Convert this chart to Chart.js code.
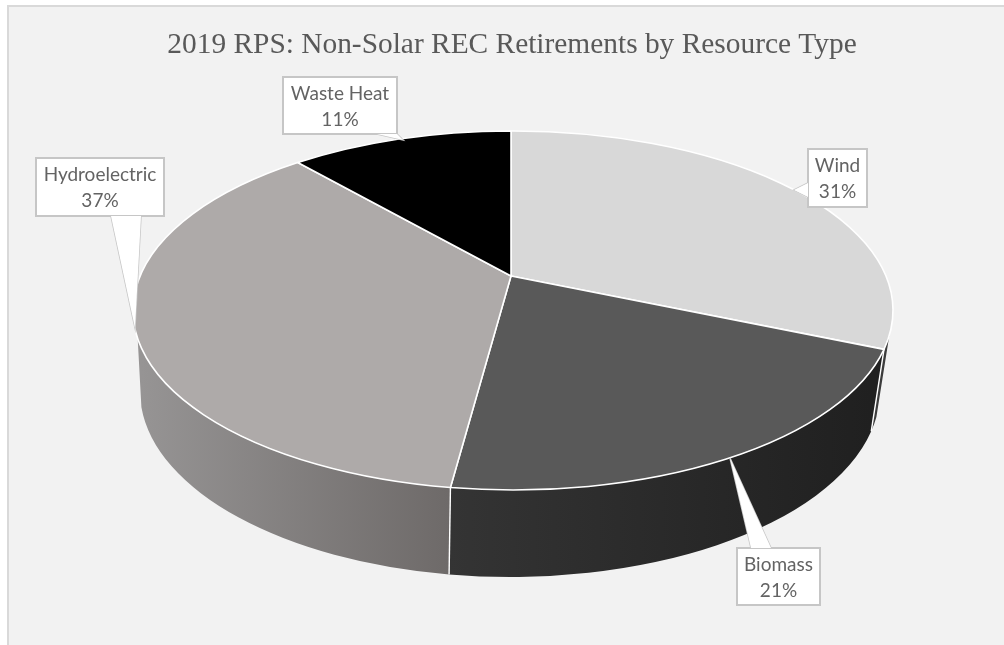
<!DOCTYPE html>
<html><head><meta charset="utf-8">
<style>html,body{margin:0;padding:0;background:#fff}canvas{display:block}</style>
<script src="https://cdn.jsdelivr.net/npm/chart.js@4"></script>
</head><body>
<canvas id="c" width="1004" height="645"></canvas>
<script>
const categories = ["Wind", "Biomass", "Hydroelectric", "Waste Heat"];
const shares = [31.4, 20.7, 36.5, 11.4];
const topColors = ["#d8d8d8", "#595959", "#aeaaa9", "#000000"];
const sideLeftColors = ["#3c3c3c", "#343434", "#969494", "#000000"];
const sideRightColors = ["#3c3c3c", "#202020", "#6e6a69", "#000000"];
const chartTitle = "2019 RPS: Non-Solar REC Retirements by Resource Type";

// Geometry of the tilted disc
const TOP = {cx: 513, cy: 310.5, rx: 380, ry: 179.5};
const BOT = {cx: 510, cy: 391, rx: 370, ry: 186};
const APEX = {x: 511, y: 276};
const PERSP = {a: 373, b: 172.9, m: 0.192};
const SIDE_R = 8 * Math.PI / 180, SIDE_TOP_L = 171 * Math.PI / 180, SIDE_BOT_L = 175 * Math.PI / 180;

// Callout layout: box [x0,y0,x1,y1] + pointer polygon
const callouts = [
  {box: [808, 149, 867, 207], ptr: [[808, 183], [794, 190], [808, 197]]},
  {box: [737, 548, 820, 605], ptr: [[751, 548], [730, 458], [771, 548]]},
  {box: [36, 158, 164, 216], ptr: [[111, 216], [135, 328], [141, 216]]},
  {box: [283, 77, 397, 134], ptr: [[377, 134], [403, 140], [397, 134]]}
];

// true pie angle -> parametric angle on the perspective top ellipse
function toParam(theta) {
  const x = Math.cos(theta), y = Math.sin(theta), w = 1 - PERSP.m * y;
  const X = APEX.x + PERSP.a * x / w, Y = APEX.y + PERSP.b * y / w;
  return Math.atan2((Y - TOP.cy) / TOP.ry, (X - TOP.cx) / TOP.rx);
}
function unwrap(p, ref) {
  while (p < ref) p += 2 * Math.PI;
  return p;
}

const disc3d = {
  id: "disc3d",
  beforeDraw(chart) {
    const g = chart.ctx;
    g.save();
    g.fillStyle = "#ffffff";
    g.fillRect(0, 0, chart.width, chart.height);
    g.fillStyle = "#f2f2f2";
    g.fillRect(8, 6, chart.width - 8, chart.height - 6);
    g.fillStyle = "#d9d9d9";
    g.fillRect(7, 5, chart.width - 7, 2);
    g.fillRect(7, 5, 2, chart.height - 5);
    g.restore();
  },
  beforeDatasetDraw(chart) {
    const g = chart.ctx, meta = chart.getDatasetMeta(0);
    const spans = meta.data.map(el => {
      const a = toParam(el.startAngle);
      const b = unwrap(toParam(el.endAngle), a + 1e-6);
      return {a, b};
    });
    g.save();
    // side wall
    spans.forEach((s, i) => {
      let a = s.a, b = s.b;
      while (b > 2 * Math.PI) { a -= 2 * Math.PI; b -= 2 * Math.PI; }
      const t0 = Math.max(a, SIDE_R), t1 = Math.min(b, SIDE_TOP_L);
      if (t1 <= t0) return;
      const b1 = t1 === SIDE_TOP_L ? SIDE_BOT_L : t1;
      const grad = g.createLinearGradient(BOT.cx + BOT.rx * Math.cos(b1), 0, BOT.cx + BOT.rx * Math.cos(t0), 0);
      grad.addColorStop(0, sideLeftColors[i]);
      grad.addColorStop(1, sideRightColors[i]);
      g.fillStyle = grad;
      g.beginPath();
      g.ellipse(TOP.cx, TOP.cy, TOP.rx, TOP.ry, 0, t0, t1);
      g.ellipse(BOT.cx, BOT.cy, BOT.rx, BOT.ry, 0, b1, t0, true);
      g.closePath();
      g.fill();
    });
    // white seams on the wall
    g.strokeStyle = "#ffffff";
    g.lineWidth = 1.4;
    spans.forEach(s => {
      let p = s.b;
      while (p > 2 * Math.PI) p -= 2 * Math.PI;
      if (p > SIDE_R && p < SIDE_TOP_L) {
        g.beginPath();
        g.moveTo(TOP.cx + TOP.rx * Math.cos(p), TOP.cy + TOP.ry * Math.sin(p));
        g.lineTo(BOT.cx + BOT.rx * Math.cos(p), BOT.cy + BOT.ry * Math.sin(p));
        g.stroke();
      }
    });
    // top face
    spans.forEach((s, i) => {
      g.beginPath();
      g.moveTo(APEX.x, APEX.y);
      g.ellipse(TOP.cx, TOP.cy, TOP.rx, TOP.ry, 0, s.a, s.b);
      g.closePath();
      g.fillStyle = meta.data[i].options.backgroundColor;
      g.fill();
      g.strokeStyle = "#ffffff";
      g.lineWidth = 1.6;
      g.lineJoin = "round";
      g.stroke();
    });
    g.restore();
    return false;
  },
  afterDraw(chart) {
    const g = chart.ctx;
    g.save();
    callouts.forEach((c, i) => {
      const [x0, y0, x1, y1] = c.box;
      g.fillStyle = "#ffffff";
      g.strokeStyle = "#c6c6c6";
      g.lineWidth = 2;
      g.beginPath();
      g.rect(x0, y0, x1 - x0, y1 - y0);
      g.fill();
      g.stroke();
      g.lineWidth = 1.5;
      g.beginPath();
      c.ptr.forEach((p, k) => k ? g.lineTo(p[0], p[1]) : g.moveTo(p[0], p[1]));
      g.stroke();
      g.closePath();
      g.fill();
      g.fillStyle = "#636363";
      g.font = "19px Lato";
      g.textAlign = "center";
      g.textBaseline = "middle";
      const xc = (x0 + x1) / 2;
      g.fillText(categories[i], xc, y0 + 17);
      g.fillText(Math.round(shares[i]) + "%", xc, y0 + 43);
    });
    g.restore();
  }
};

new Chart(document.getElementById("c"), {
  type: "pie",
  data: {labels: categories, datasets: [{data: shares, backgroundColor: topColors, borderColor: "#ffffff"}]},
  options: {
    responsive: false,
    animation: false,
    layout: {padding: {left: 20, top: 24}},
    plugins: {
      legend: {display: false},
      tooltip: {enabled: false},
      title: {
        display: true,
        text: chartTitle,
        color: "#595959",
        font: {family: "Liberation Serif", size: 29.4, weight: "normal"},
        padding: {top: 4, bottom: 4}
      }
    }
  },
  plugins: [disc3d]
});
</script>
</body></html>
